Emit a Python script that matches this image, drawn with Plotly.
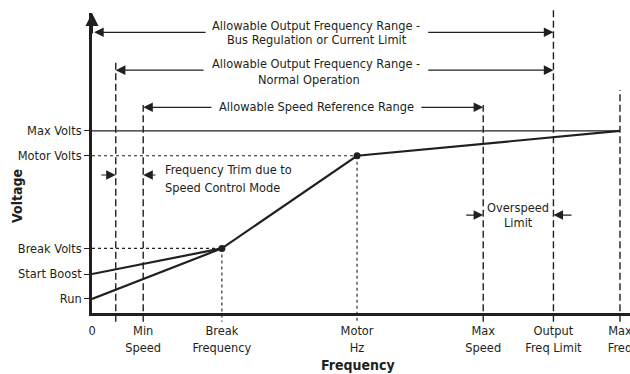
import plotly.graph_objects as go

# Frequency set points (x, chart units) and their axis labels
freq_labels = ["0", "Min<br>Speed", "Break<br>Frequency", "Motor<br>Hz",
               "Max<br>Speed", "Output<br>Freq Limit", "Max<br>Freq"]
freq_values = [0, 9.7, 24.6, 50.2, 74.1, 87.4, 100]
trim_freq = 4.5  # lower edge of the output range incl. frequency trim

# Voltage set points (y, chart units) and their axis labels
volt_labels = ["Run", "Start Boost", "Break Volts", "Motor Volts", "Max Volts"]
volt_values = [7.7, 21.4, 35.5, 86.4, 100]

RUN, START_BOOST, BREAK_V, MOTOR_V, MAX_V = volt_values
ZERO, MIN_SPEED, BREAK_F, MOTOR_HZ, MAX_SPEED, OUT_LIMIT, MAX_FREQ = freq_values

# V/Hz curves
run_curve_x = [ZERO, BREAK_F, MOTOR_HZ, MAX_FREQ]
run_curve_y = [RUN, BREAK_V, MOTOR_V, MAX_V]
boost_curve_x = [ZERO, BREAK_F]
boost_curve_y = [START_BOOST, BREAK_V]

INK = "#231f20"
FONT = "DejaVu Sans Condensed, DejaVu Sans, sans-serif"
FS = 12.7
X_MAX = 101.9
Y_MAX = 164.8
BELOW = -4.8  # how far the guide lines reach under the frequency axis

fig = go.Figure()

fig.add_trace(go.Scatter(x=[ZERO, MAX_FREQ], y=[MAX_V, MAX_V], mode="lines",
                         line=dict(color=INK, width=1.3), hoverinfo="skip"))
fig.add_trace(go.Scatter(x=boost_curve_x, y=boost_curve_y, mode="lines",
                         line=dict(color=INK, width=2.2), hoverinfo="skip"))
fig.add_trace(go.Scatter(x=run_curve_x, y=run_curve_y, mode="lines",
                         line=dict(color=INK, width=2.2), hoverinfo="skip"))
fig.add_trace(go.Scatter(x=[BREAK_F, MOTOR_HZ], y=[BREAK_V, MOTOR_V], mode="markers",
                         marker=dict(color=INK, size=7), hoverinfo="skip"))

shapes = []
# dotted guides from the break / motor points to both axes
for fx, vy in [(BREAK_F, BREAK_V), (MOTOR_HZ, MOTOR_V)]:
    shapes.append(dict(type="line", xref="x", yref="y", x0=ZERO, x1=fx, y0=vy, y1=vy,
                       line=dict(color=INK, width=1.1, dash="3px,3px")))
    shapes.append(dict(type="line", xref="x", yref="paper", x0=fx, x1=fx,
                       y0=vy / Y_MAX, y1=BELOW / Y_MAX,
                       line=dict(color=INK, width=1.1, dash="3px,3px")))

# dashed range limits (x position, top of the line in voltage units)
dashed_limits = [(trim_freq, 137.9), (MIN_SPEED, 114.3), (MAX_SPEED, 114.3),
                 (OUT_LIMIT, 166.5), (MAX_FREQ, 122.5)]
for fx, top in dashed_limits:
    shapes.append(dict(type="line", xref="x", yref="paper", x0=fx, x1=fx,
                       y0=BELOW / Y_MAX, y1=top / Y_MAX,
                       line=dict(color=INK, width=1.4, dash="7px,3.5px")))

annotations = []


def arrow(tail_x, head_x, y):
    annotations.append(dict(x=head_x, y=y, ax=tail_x, ay=y, xref="x", yref="y",
                            axref="x", ayref="y", text="", showarrow=True,
                            arrowhead=2, arrowsize=1.6, arrowwidth=1.2,
                            arrowcolor=INK))


def label(text, x, y, anchor="center"):
    annotations.append(dict(x=x, y=y, xref="x", yref="y", text=text, showarrow=False,
                            xanchor=anchor, yanchor="middle",
                            font=dict(family=FONT, size=FS, color=INK)))


# range bands across the top
arrow(21.8, 0.4, 154.2)
arrow(63.4, OUT_LIMIT, 154.2)
label("Allowable Output Frequency Range -", 42.4, 158.2)
label("Bus Regulation or Current Limit", 42.6, 150.0)

arrow(21.4, trim_freq, 133.4)
arrow(63.4, OUT_LIMIT, 133.4)
label("Allowable Output Frequency Range -", 42.4, 136.8)
label("Normal Operation", 41.1, 128.0)

arrow(22.9, MIN_SPEED, 113.0)
arrow(62.1, MAX_SPEED, 113.0)
label("Allowable Speed Reference Range", 42.6, 113.2)

# frequency trim
arrow(1.5, trim_freq, 75.8)
arrow(12.3, MIN_SPEED, 75.8)
label("Frequency Trim due to", 13.4, 78.6, anchor="left")
label("Speed Control Mode", 13.4, 69.2, anchor="left")

# overspeed limit
arrow(70.6, MAX_SPEED, 53.8)
arrow(91.1, OUT_LIMIT, 53.8)
label("Overspeed", 80.7, 58.2)
label("Limit", 80.7, 49.5)

# axis titles
annotations.append(dict(x=-0.1394, y=0.39, xref="paper", yref="paper", text="Voltage",
                        showarrow=False, textangle=-90, xanchor="center", yanchor="middle",
                        font=dict(family=FONT, size=14, color=INK, weight="bold")))
annotations.append(dict(x=0.4944, y=-0.1733, xref="paper", yref="paper", text="Frequency",
                        showarrow=False, xanchor="center", yanchor="middle",
                        font=dict(family=FONT, size=14, color=INK, weight="bold")))

# arrowhead on top of the voltage axis
annotations.append(dict(x=0, y=1, xref="x", yref="paper", ax=0, ay=22, text="",
                        showarrow=True, arrowhead=2, arrowsize=1.3, arrowwidth=2,
                        arrowcolor=INK))

fig.update_layout(
    template="none",
    width=630, height=374,
    margin=dict(l=92, r=0, t=13, b=61, pad=0),
    paper_bgcolor="white", plot_bgcolor="white",
    showlegend=False,
    shapes=shapes,
    annotations=annotations,
    font=dict(family=FONT, size=FS, color=INK),
    xaxis=dict(range=[0, X_MAX], tickmode="array", tickvals=freq_values,
               ticktext=freq_labels, showgrid=False, zeroline=False,
               showline=True, linecolor=INK, linewidth=2.5,
               ticks="outside", ticklen=4, tickcolor="rgba(0,0,0,0)",
               ticklabeloverflow="allow",
               tickfont=dict(family=FONT, size=FS, color=INK),
               automargin=False, fixedrange=True),
    yaxis=dict(range=[0, Y_MAX], tickmode="array", tickvals=volt_values,
               ticktext=volt_labels, showgrid=False, zeroline=False,
               showline=True, linecolor=INK, linewidth=2.5,
               ticks="outside", ticklen=5, tickwidth=1, tickcolor=INK,
               tickfont=dict(family=FONT, size=FS, color=INK),
               automargin=False, fixedrange=True),
)

fig.write_html("out.html", config={"displayModeBar": False})
